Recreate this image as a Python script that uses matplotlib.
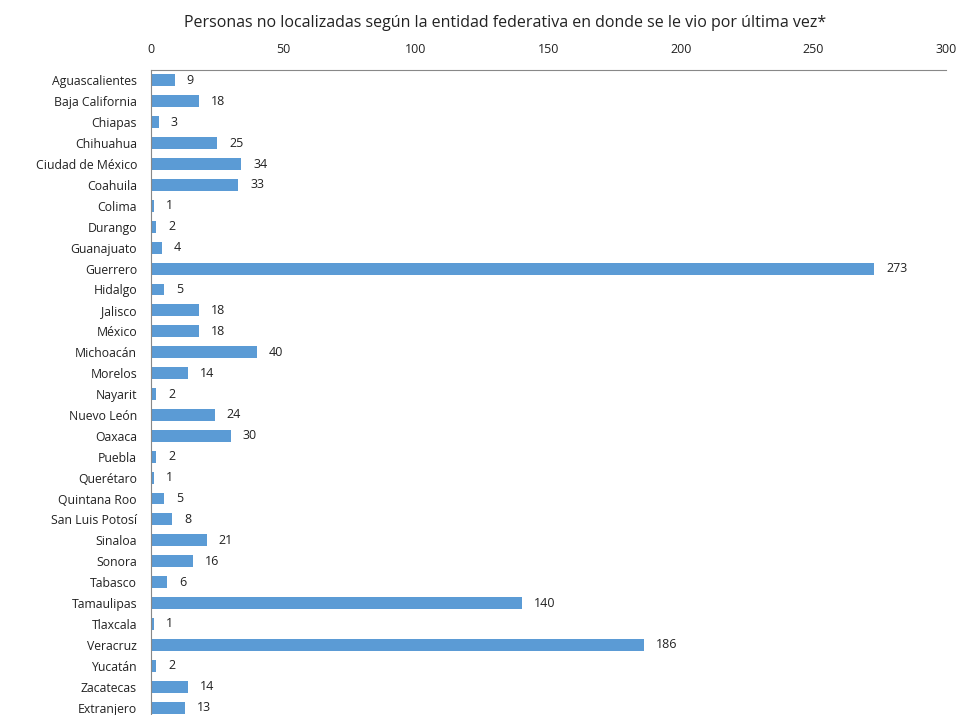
import matplotlib.pyplot as plt

estados = ["Aguascalientes", "Baja California", "Chiapas", "Chihuahua", "Ciudad de México",
           "Coahuila", "Colima", "Durango", "Guanajuato", "Guerrero", "Hidalgo", "Jalisco",
           "México", "Michoacán", "Morelos", "Nayarit", "Nuevo León", "Oaxaca", "Puebla",
           "Querétaro", "Quintana Roo", "San Luis Potosí", "Sinaloa", "Sonora", "Tabasco",
           "Tamaulipas", "Tlaxcala", "Veracruz", "Yucatán", "Zacatecas", "Extranjero"]
personas = [9, 18, 3, 25, 34, 33, 1, 2, 4, 273, 5, 18, 18, 40, 14, 2, 24, 30, 2, 1, 5, 8,
            21, 16, 6, 140, 1, 186, 2, 14, 13]
ticks_x = [0, 50, 100, 150, 200, 250, 300]

plt.rcParams['font.family'] = ['Open Sans', 'DejaVu Sans']

fig = plt.figure(figsize=(9.63, 7.15), dpi=100)
ax = fig.add_axes([151/963, -3/715, (946-151)/963, (715-70+3)/715])

pos = list(range(len(estados)))
ax.barh(pos, personas, height=0.57, color="#5B9BD5")
for p, v in zip(pos, personas):
    ax.text(v + 4.5, p, str(v), va="center", ha="left", fontsize=9, color="#222222")

ax.set_ylim(len(estados) - 0.5, -0.5)
ax.set_xlim(0, 300)
ax.set_yticks(pos)
ax.set_yticklabels(estados, fontsize=8.8, color="#222222")
ax.set_xticks(ticks_x)
ax.xaxis.tick_top()
ax.tick_params(axis="x", length=0, pad=10, labelsize=9, labelcolor="#222222")
ax.tick_params(axis="y", length=0, pad=10)
for s in ["right", "bottom"]:
    ax.spines[s].set_visible(False)
ax.spines["left"].set_color("#888888")
ax.spines["top"].set_color("#888888")

fig.text(0.525, 0.968, "Personas no localizadas según la entidad federativa en donde se le vio por última vez*",
         ha="center", va="center", fontsize=11.5, color="#222222")

fig.savefig("out.png", dpi=100)
